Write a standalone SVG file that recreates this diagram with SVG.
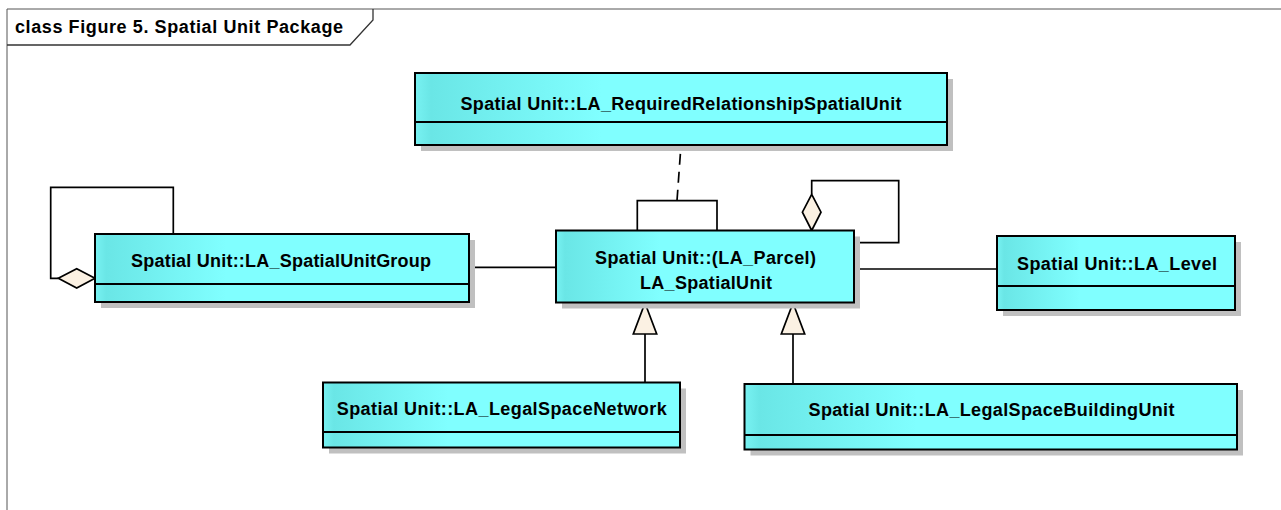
<svg xmlns="http://www.w3.org/2000/svg" width="1281" height="510" viewBox="0 0 1281 510">
  <style>
    .box { stroke: #000; stroke-width: 2; }
    .shadow { fill: #c0c0c0; }
    .sep { stroke: #000; stroke-width: 2; fill: none; }
    .name { font-family: "Liberation Sans", Arial, sans-serif; font-weight: bold; font-size: 18px; fill: #000; text-anchor: middle; }
    .title { font-family: "Liberation Sans", Arial, sans-serif; font-weight: bold; font-size: 18px; fill: #000; }
    .line { stroke: #000; stroke-width: 1.7; fill: none; }
    .dash { stroke: #000; stroke-width: 1.7; fill: none; stroke-dasharray: 11 7; }
    .head { fill: #fbf1e3; stroke: #000; stroke-width: 1.7; stroke-linejoin: miter; }
  </style>
  <defs>
    <linearGradient id="fill" x1="0" y1="0" x2="1" y2="0">
      <stop offset="0" stop-color="#78f2f2"/>
      <stop offset="0.03" stop-color="#6ae6e6"/>
      <stop offset="0.35" stop-color="#80ffff"/>
      <stop offset="1" stop-color="#80ffff"/>
    </linearGradient>
  </defs>

  <rect width="1281" height="510" fill="#fff"/>

  <!-- diagram frame with its name tab -->
  <g id="frame">
    <path d="M7,510 V9 H1281" fill="none" stroke="#555" stroke-width="1"/>
    <path d="M7,45 H350 L373,20 V9" fill="none" stroke="#333" stroke-width="1.3"/>
    <text class="title" x="15" y="33" textLength="328" lengthAdjust="spacing">class Figure 5. Spatial Unit Package</text>
  </g>

  <!-- connectors -->
  <g id="connectors">
    <!-- LA_SpatialUnitGroup self aggregation -->
    <path class="line" d="M173.3,234 V187.3 H50.7 V278.3 H58.3"/>
    <polygon class="head" points="58.3,278.3 76.7,268.7 95,278.3 76.7,288"/>
    <!-- LA_SpatialUnitGroup to LA_SpatialUnit -->
    <path class="line" d="M469,267.3 H556"/>
    <!-- LA_SpatialUnit self association with association class -->
    <path class="line" d="M637.3,230.5 V200.7 H717 V230.5"/>
    <path class="dash" d="M677,200.7 L681,145"/>
    <!-- LA_SpatialUnit self aggregation -->
    <path class="line" d="M811.7,194.3 V180.7 H898.7 V242.7 H854"/>
    <polygon class="head" points="811.7,194.3 821,212.2 811.7,230.5 802.4,212.2"/>
    <!-- LA_SpatialUnit to LA_Level -->
    <path class="line" d="M854,269 H997"/>
    <!-- generalizations -->
    <path class="line" d="M645,382.5 V334"/>
    <polygon class="head" points="645,303 656.7,334 633.3,334"/>
    <path class="line" d="M793,384 V334"/>
    <polygon class="head" points="793,303 804.7,334 781.3,334"/>
  </g>

  <g id="LA_RequiredRelationshipSpatialUnit">
    <rect class="shadow" x="421" y="79" width="532" height="72"/>
    <rect class="box" x="415" y="73" width="532" height="72" fill="url(#fill)"/>
    <path class="sep" d="M415,122 H947"/>
    <text class="name" x="681" y="110" textLength="441" lengthAdjust="spacing">Spatial Unit::LA_RequiredRelationshipSpatialUnit</text>
  </g>

  <g id="LA_SpatialUnitGroup">
    <rect class="shadow" x="101" y="240" width="374" height="68"/>
    <rect class="box" x="95" y="234" width="374" height="68" fill="url(#fill)"/>
    <path class="sep" d="M95,284 H469"/>
    <text class="name" x="281" y="267" textLength="300" lengthAdjust="spacing">Spatial Unit::LA_SpatialUnitGroup</text>
  </g>

  <g id="LA_SpatialUnit">
    <rect class="shadow" x="562" y="236.5" width="298" height="72"/>
    <rect class="box" x="556" y="230.5" width="298" height="72" fill="url(#fill)"/>
    <text class="name" x="705.5" y="264" textLength="221" lengthAdjust="spacing">Spatial Unit::(LA_Parcel)</text>
    <text class="name" x="706" y="289" textLength="132" lengthAdjust="spacing">LA_SpatialUnit</text>
  </g>

  <g id="LA_Level">
    <rect class="shadow" x="1003" y="242" width="238" height="74"/>
    <rect class="box" x="997" y="236" width="238" height="74" fill="url(#fill)"/>
    <path class="sep" d="M997,286 H1235"/>
    <text class="name" x="1117" y="270" textLength="200" lengthAdjust="spacing">Spatial Unit::LA_Level</text>
  </g>

  <g id="LA_LegalSpaceNetwork">
    <rect class="shadow" x="329" y="388.5" width="357" height="65"/>
    <rect class="box" x="323" y="382.5" width="357" height="65" fill="url(#fill)"/>
    <path class="sep" d="M323,432 H680"/>
    <text class="name" x="501.7" y="415" textLength="330" lengthAdjust="spacing">Spatial Unit::LA_LegalSpaceNetwork</text>
  </g>

  <g id="LA_LegalSpaceBuildingUnit">
    <rect class="shadow" x="750.5" y="390" width="492.5" height="65.5"/>
    <rect class="box" x="744.5" y="384" width="492.5" height="65.5" fill="url(#fill)"/>
    <path class="sep" d="M744.5,435 H1237"/>
    <text class="name" x="991.5" y="416" textLength="366" lengthAdjust="spacing">Spatial Unit::LA_LegalSpaceBuildingUnit</text>
  </g>
</svg>
